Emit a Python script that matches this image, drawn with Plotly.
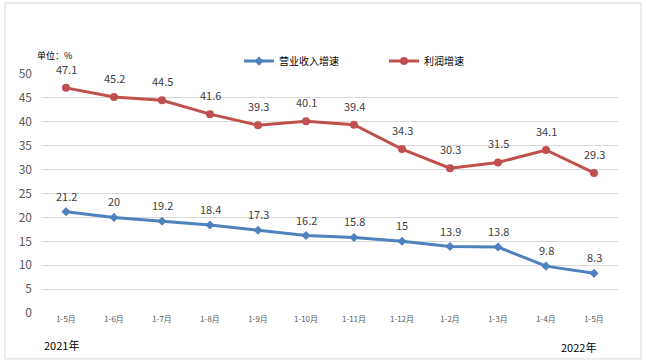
import plotly.graph_objects as go

categories = ["1-5月", "1-6月", "1-7月", "1-8月", "1-9月", "1-10月", "1-11月", "1-12月", "1-2月", "1-3月", "1-4月", "1-5月"]
revenue_growth = [21.2, 20, 19.2, 18.4, 17.3, 16.2, 15.8, 15, 13.9, 13.8, 9.8, 8.3]
profit_growth = [47.1, 45.2, 44.5, 41.6, 39.3, 40.1, 39.4, 34.3, 30.3, 31.5, 34.1, 29.3]
y_ticks = [0, 5, 10, 15, 20, 25, 30, 35, 40, 45, 50]

FONT = "Noto Sans CJK SC"
xs = list(range(len(categories)))

fig = go.Figure()
fig.add_trace(go.Scatter(
    x=xs, y=revenue_growth, name="营业收入增速",
    mode="lines+markers",
    line=dict(color="#4F81BD", width=3),
    marker=dict(symbol="diamond", size=7, color="#4F81BD"),
    cliponaxis=False,
))
fig.add_trace(go.Scatter(
    x=xs, y=profit_growth, name="利润增速",
    mode="lines+markers",
    line=dict(color="#C0504D", width=3),
    marker=dict(symbol="circle", size=8, color="#C0504D"),
    cliponaxis=False,
))

annotations = []
for xi, v in zip(xs, revenue_growth):
    annotations.append(dict(x=xi, y=v, xref="x", yref="y", text=str(v), showarrow=False,
                            yshift=16, font=dict(family=FONT, size=11, color="#404040")))
for xi, v in zip(xs, profit_growth):
    annotations.append(dict(x=xi, y=v, xref="x", yref="y", text=str(v), showarrow=False,
                            yshift=19, font=dict(family=FONT, size=11, color="#404040")))

annotations += [
    dict(text="单位：%", xref="paper", yref="paper", x=-0.012, y=1.079,
         xanchor="left", yanchor="middle", showarrow=False,
         font=dict(family=FONT, size=9, color="#000000")),
    dict(text="2021年", xref="paper", yref="paper", x=0.0, y=-0.135,
         xanchor="left", yanchor="middle", showarrow=False,
         font=dict(family=FONT, size=11, color="#000000")),
    dict(text="2022年", xref="paper", yref="paper", x=0.897, y=-0.143,
         xanchor="left", yanchor="middle", showarrow=False,
         font=dict(family=FONT, size=11, color="#000000")),
]

fig.update_layout(
    width=646, height=364,
    margin=dict(l=42, r=28, t=74, b=51, autoexpand=False),
    paper_bgcolor="white", plot_bgcolor="white",
    font=dict(family=FONT, color="#595959"),
    showlegend=True,
    legend=dict(orientation="h", x=0.342, xanchor="left", y=1.054, yanchor="middle",
                font=dict(family=FONT, size=10, color="#000000"),
                entrywidth=100, entrywidthmode="pixels", itemwidth=30,
                bgcolor="rgba(0,0,0,0)"),
    xaxis=dict(
        range=[-0.5, len(categories) - 0.5],
        tickmode="array", tickvals=xs, ticktext=categories,
        tickfont=dict(family=FONT, size=8, color="#595959"),
        showgrid=False, zeroline=False, showline=False, ticks="",
    ),
    yaxis=dict(
        range=[0, 50], tickmode="array", tickvals=y_ticks,
        tickfont=dict(family=FONT, size=12, color="#595959"),
        showgrid=True, gridcolor="#D9D9D9", gridwidth=1,
        zeroline=False, showline=False, ticks="", ticklabelstandoff=9,
    ),
    shapes=[
        dict(type="rect", xref="paper", yref="paper",
             x0=-0.0642, x1=1.04, y0=-0.192, y1=1.297,
             line=dict(color="#D9D9D9", width=1)),
    ],
    annotations=annotations,
)

fig.write_html("out.html", config={"displayModeBar": False},
               post_script="document.body.style.margin='0';")
